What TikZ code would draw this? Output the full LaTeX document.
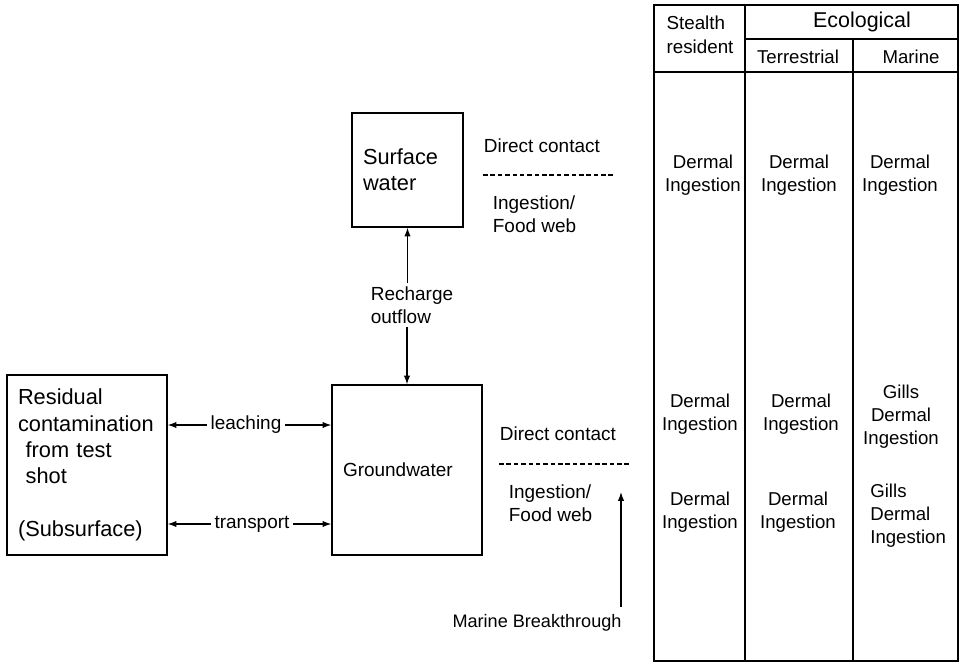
\documentclass[tikz,border=0pt]{standalone}
\usepackage{fontspec}
\setmainfont{Liberation Sans}
\usetikzlibrary{arrows.meta}

\begin{document}
\begin{tikzpicture}[x=0.02cm,y=-0.02cm,
  box/.style={draw,line width=0.7pt,inner sep=0.22cm,align=left,font=\fontsize{12.4}{15}\selectfont},
  lbl/.style={inner sep=2pt,align=left,font=\fontsize{10.8}{13}\selectfont},
  cell/.style={inner sep=0pt,align=center,font=\fontsize{10.6}{13}\selectfont},
  arr/.style={line width=0.7pt,-{Latex[length=5pt,width=3.6pt]}},
  sep/.style={line width=0.7pt,dash pattern=on 2.6pt off 1.6pt},
  rule/.style={line width=0.8pt}]
\useasboundingbox (0,0) rectangle (960,663);

\node [box,text width=2.76cm,minimum height=3.6cm] (res) at (87,465)
  {Residual\\contamination\\\hspace*{0.35em}from test\\\hspace*{0.35em}shot\\[15pt](Subsurface)};
\node [box,text width=1.78cm,minimum height=2.28cm] (surf) at (407.5,170) {Surface\\water};
\node [box,text width=2.56cm,minimum height=3.4cm,font=\fontsize{10.8}{13}\selectfont] (gw) at (407,470) {Groundwater};

\node [lbl] (lch) at (246,425) {leaching};
\node [lbl] (trn) at (252,524) {transport};
\draw [arr] (lch.west) -- (res.east |- lch.west);
\draw [arr] (lch.east) -- (gw.west |- lch.east);
\draw [arr] (trn.west) -- (res.east |- trn.west);
\draw [arr] (trn.east) -- (gw.west |- trn.east);

\node [lbl] (rch) at (412,305) {Recharge\\outflow};
\draw [arr] (rch.north -| surf.south) -- (surf.south);
\draw [arr] (rch.south -| gw.north) -- (gw.north);

% exposure routes
\node [lbl,anchor=west] (dc1) at (480,146) {Direct contact};
\node [lbl,anchor=west] (fw1) at (489,214.5) {Ingestion/\\Food web};
\draw [sep] (483,175) -- (615,175);
\node [lbl,anchor=west] (dc2) at (496,434) {Direct contact};
\node [lbl,anchor=west] (fw2) at (505,503.5) {Ingestion/\\Food web};
\draw [sep] (499,464) -- (630,464);

\node [lbl,font=\fontsize{10.3}{12}\selectfont] (mb) at (537,623) {Marine Breakthrough};
\coordinate (mbtip) at (621,492);
\draw [arr] ([yshift=2pt]mbtip |- mb.north) -- (mbtip);

% receptor table
\draw [rule] (654,5) rectangle (958,661);
\draw [rule] (745,5) -- (745,661);
\draw [rule] (853,39) -- (853,661);
\draw [rule] (745,39) -- (958,39);
\draw [rule] (654,72) -- (958,72);

\node [cell,align=left,font=\fontsize{10.7}{13.6}\selectfont] (hst) at (700,35) {Stealth\\resident};
\node [cell,font=\fontsize{12.2}{14}\selectfont] (heco) at (862,22) {Ecological};
\node [cell] (hte) at (798,57) {Terrestrial};
\node [cell] (hma) at (911,57) {Marine};

\node [cell] (st1) at (703,175) {Dermal\\Ingestion};
\node [cell] (te1) at (799,175) {Dermal\\Ingestion};
\node [cell] (ma1) at (900,175) {Dermal\\Ingestion};
\node [cell] (st2) at (700,414) {Dermal\\Ingestion};
\node [cell] (te2) at (801,414) {Dermal\\Ingestion};
\node [cell] (ma2) at (901,417) {Gills\\Dermal\\Ingestion};
\node [cell] (st3) at (700,512) {Dermal\\Ingestion};
\node [cell] (te3) at (798,512) {Dermal\\Ingestion};
\node [cell,align=left,anchor=west] (ma3) at (870,516) {Gills\\Dermal\\Ingestion};
\end{tikzpicture}
\end{document}
